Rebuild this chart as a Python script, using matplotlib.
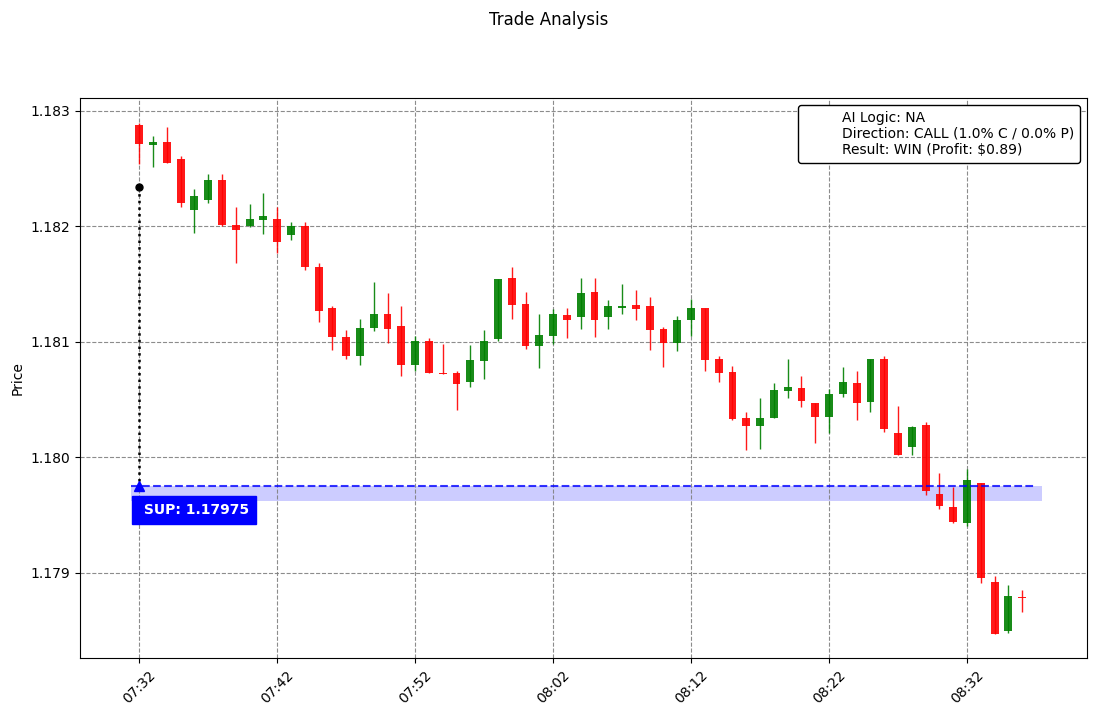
from __future__ import annotations

from datetime import datetime, timedelta

import matplotlib

matplotlib.use("Agg")
import matplotlib.dates as mdates
import matplotlib.pyplot as plt
from matplotlib.lines import Line2D

START = datetime(2024, 1, 1, 7, 32)

OPENS = [
    1.18288, 1.18270, 1.18273, 1.18258, 1.18214, 1.18223, 1.18240, 1.18201, 1.18200, 1.18205,
    1.18206, 1.18192, 1.18200, 1.18165, 1.18129, 1.18104, 1.18088, 1.18112, 1.18124, 1.18114,
    1.18080, 1.18101, 1.18073, 1.18073, 1.18065, 1.18083, 1.18102, 1.18155, 1.18133, 1.18096,
    1.18105, 1.18123, 1.18121, 1.18143, 1.18121, 1.18129, 1.18132, 1.18131, 1.18111, 1.18099,
    1.18119, 1.18129, 1.18085, 1.18074, 1.18034, 1.18027, 1.18034, 1.18057, 1.18060, 1.18047,
    1.18035, 1.18055, 1.18064, 1.18048, 1.18085, 1.18021, 1.18009, 1.18028, 1.17968, 1.17957,
    1.17943, 1.17978, 1.17892, 1.17849, 1.17879,
]
CLOSES = [
    1.18271, 1.18273, 1.18255, 1.18220, 1.18226, 1.18240, 1.18201, 1.18197, 1.18206, 1.18209,
    1.18186, 1.18200, 1.18165, 1.18127, 1.18104, 1.18088, 1.18112, 1.18124, 1.18111, 1.18080,
    1.18101, 1.18073, 1.18072, 1.18063, 1.18084, 1.18101, 1.18154, 1.18132, 1.18096, 1.18106,
    1.18124, 1.18119, 1.18142, 1.18119, 1.18131, 1.18131, 1.18128, 1.18110, 1.18099, 1.18119,
    1.18129, 1.18084, 1.18073, 1.18033, 1.18027, 1.18034, 1.18058, 1.18061, 1.18049, 1.18035,
    1.18055, 1.18065, 1.18047, 1.18085, 1.18024, 1.18002, 1.18026, 1.17971, 1.17958, 1.17944,
    1.17980, 1.17895, 1.17847, 1.17880, 1.17878,
]
HIGHS = [
    1.18289, 1.18278, 1.18286, 1.18261, 1.18232, 1.18245, 1.18245, 1.18217, 1.18219, 1.18229,
    1.18217, 1.18204, 1.18204, 1.18168, 1.18131, 1.18110, 1.18120, 1.18152, 1.18142, 1.18131,
    1.18105, 1.18103, 1.18098, 1.18075, 1.18097, 1.18110, 1.18154, 1.18165, 1.18143, 1.18124,
    1.18128, 1.18129, 1.18155, 1.18155, 1.18136, 1.18150, 1.18145, 1.18139, 1.18113, 1.18122,
    1.18137, 1.18129, 1.18088, 1.18079, 1.18039, 1.18051, 1.18064, 1.18085, 1.18070, 1.18047,
    1.18059, 1.18078, 1.18075, 1.18085, 1.18088, 1.18044, 1.18027, 1.18030, 1.17986, 1.17974,
    1.17990, 1.17978, 1.17897, 1.17889, 1.17885,
]
LOWS = [
    1.18254, 1.18251, 1.18255, 1.18217, 1.18194, 1.18220, 1.18200, 1.18168, 1.18199, 1.18193,
    1.18177, 1.18188, 1.18162, 1.18117, 1.18093, 1.18085, 1.18080, 1.18109, 1.18099, 1.18070,
    1.18075, 1.18073, 1.18072, 1.18041, 1.18061, 1.18068, 1.18101, 1.18120, 1.18094, 1.18077,
    1.18098, 1.18103, 1.18111, 1.18104, 1.18111, 1.18124, 1.18119, 1.18093, 1.18078, 1.18092,
    1.18105, 1.18075, 1.18065, 1.18032, 1.18006, 1.18007, 1.18034, 1.18051, 1.18043, 1.18012,
    1.18021, 1.18052, 1.18032, 1.18039, 1.18022, 1.18002, 1.18002, 1.17967, 1.17955, 1.17943,
    1.17940, 1.17891, 1.17847, 1.17848, 1.17866,
]

SUPPORT = 1.17975
ZONE_LOW = 1.17962
ENTRY_PRICE = 1.18234
LEGEND_LINES = [
    "AI Logic: NA",
    "Direction: CALL (1.0% C / 0.0% P)",
    "Result: WIN (Profit: $0.89)",
]

BODY_WIDTH = 0.0004  # days


def main() -> None:
    times = [START + timedelta(minutes=i) for i in range(len(OPENS))]
    x = mdates.date2num(times)

    fig, ax = plt.subplots(figsize=(10.97, 7.16), dpi=100)
    fig.subplots_adjust(left=0.073, right=0.991, top=0.863, bottom=0.081)

    for xi, o, c, h, l in zip(x, OPENS, CLOSES, HIGHS, LOWS):
        color = "green" if c >= o else "red"
        ax.vlines(xi, l, h, color=color, linewidth=1, alpha=0.9, zorder=2)
        ax.bar(xi, abs(c - o) if abs(c - o) > 1e-7 else 0.000015, bottom=min(o, c),
               width=BODY_WIDTH, color=color, alpha=0.9, zorder=3)

    minute = 1.0 / 1440
    x0 = x[0]
    zone_left = x0 - 0.58 * minute
    ax.fill_between([zone_left, x[-1] + 1.4 * minute], ZONE_LOW, SUPPORT,
                    color="blue", alpha=0.2, linewidth=0, zorder=1)
    ax.plot([zone_left, x[-1] + 0.86 * minute], [SUPPORT, SUPPORT],
            color="blue", linestyle="--", linewidth=1.5, alpha=0.8, zorder=4)

    ax.plot([x0, x0], [ENTRY_PRICE, SUPPORT], color="black", linestyle=":", linewidth=1.8, zorder=5)
    ax.plot(x0, ENTRY_PRICE, marker="o", color="black", markersize=5, zorder=6)
    ax.plot(x0, SUPPORT, marker="^", color="blue", markersize=7, zorder=6)

    ax.text(x0, SUPPORT - 0.000144, f" SUP: {SUPPORT:.5f}",
            color="white", fontweight="bold", fontsize=10, va="top", ha="left",
            bbox=dict(boxstyle="square,pad=0.5", facecolor="blue", edgecolor="blue"), zorder=7)

    ax.set_xlim(x0 - 4.28 * minute, x0 + 68.7 * minute)
    ax.set_ylim(1.17826, 1.18311)
    ax.xaxis.set_major_locator(mdates.MinuteLocator(byminute=[2, 12, 22, 32, 42, 52]))
    ax.xaxis.set_major_formatter(mdates.DateFormatter("%H:%M"))
    ax.set_yticks([1.179, 1.180, 1.181, 1.182, 1.183])
    ax.yaxis.set_major_formatter(matplotlib.ticker.FormatStrFormatter("%.3f"))
    plt.setp(ax.get_xticklabels(), rotation=45)
    ax.set_ylabel("Price")
    ax.grid(True, color="gray", linestyle="--", linewidth=0.8, alpha=0.9)

    handles = [Line2D([], [], color="none") for _ in LEGEND_LINES]
    leg = ax.legend(handles, LEGEND_LINES, loc="upper right", framealpha=1,
                    edgecolor="black", borderpad=0.4, labelspacing=0.16)
    leg.get_frame().set_linewidth(1.0)

    fig.suptitle("Trade Analysis", y=0.985)
    fig.savefig("out.png", dpi=100)
    plt.close(fig)


if __name__ == "__main__":
    main()
